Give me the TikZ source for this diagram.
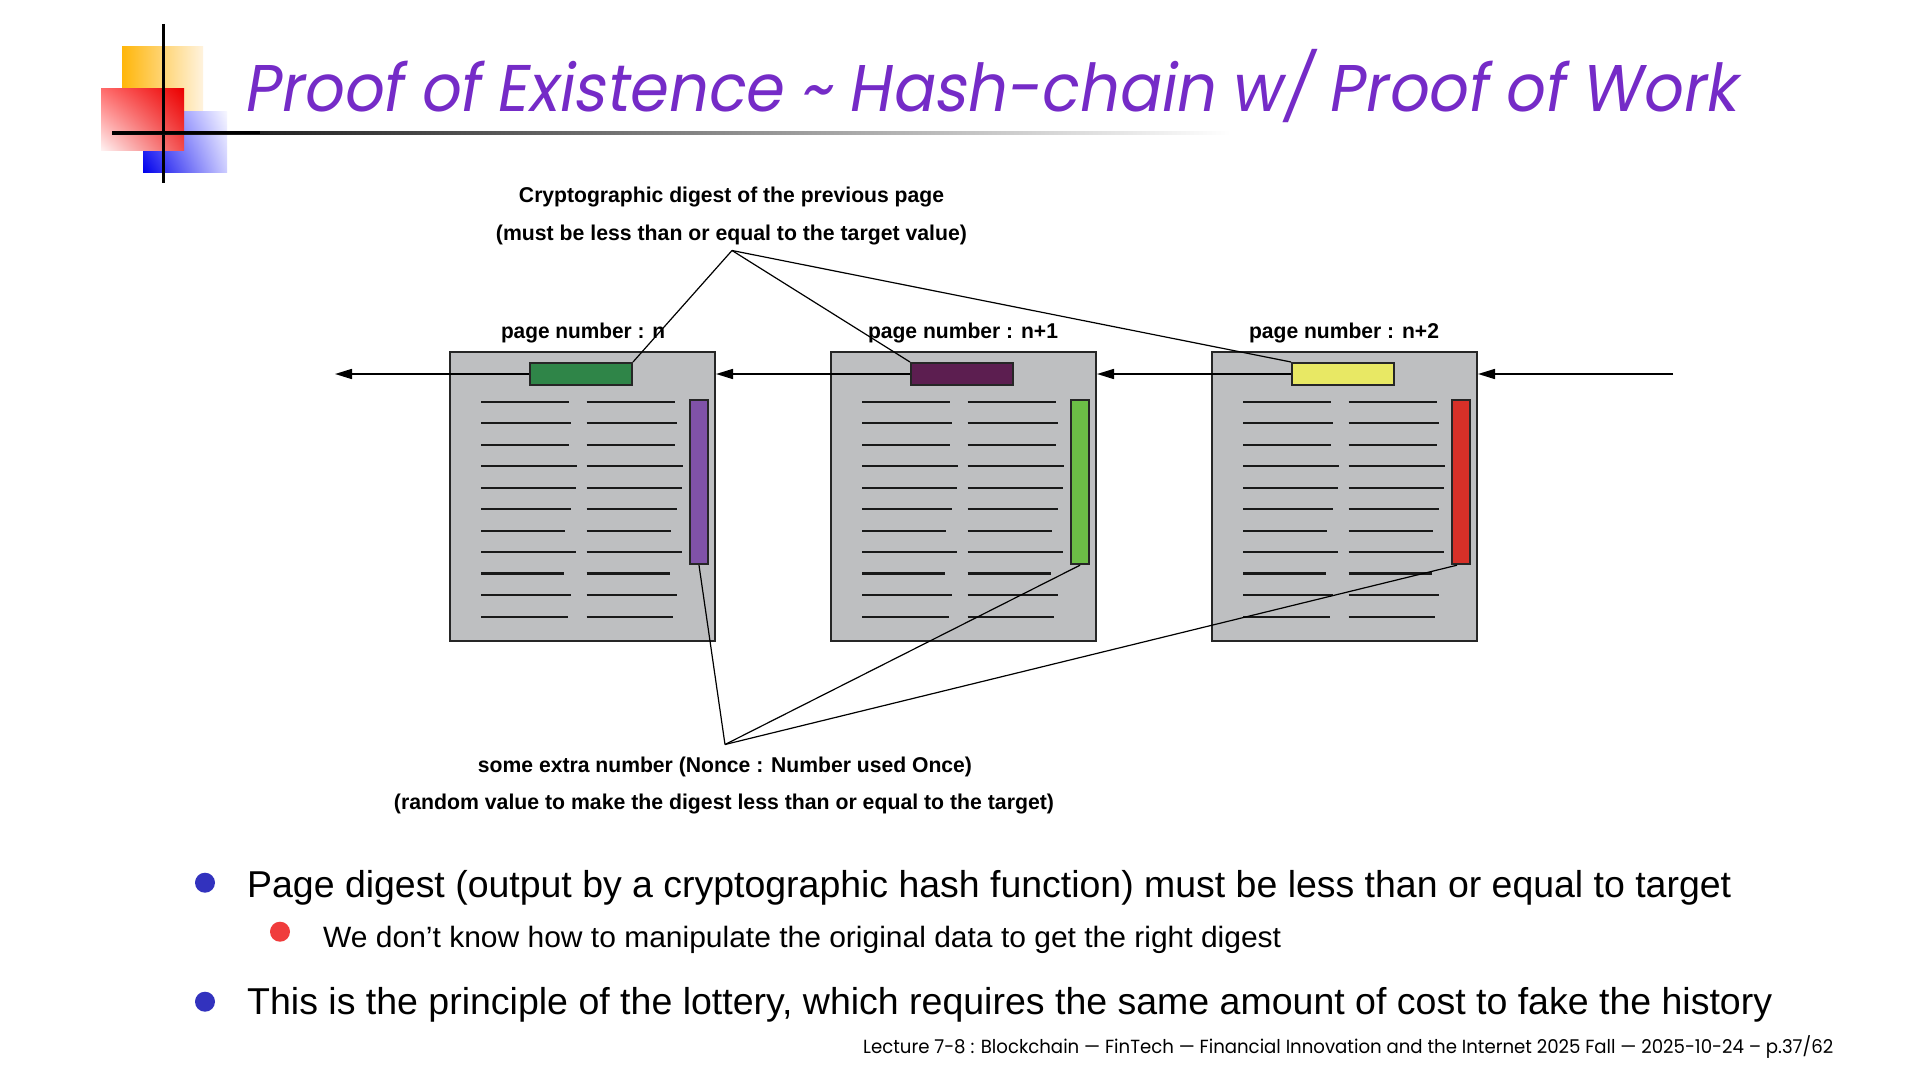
\documentclass[tikz,border=0pt]{standalone}
\usepackage{fontspec}
\usepackage{graphicx}
\setmainfont{Liberation Sans}
\newfontfamily\titlefont[FakeSlant=0.18]{Poppins}
\newfontfamily\footfont{Poppins}
\usetikzlibrary{arrows.meta,calc,shadings}
\newcommand{\fitw}[2]{\resizebox{#1}{\height}{#2}}
\definecolor{titlepurple}{RGB}{117,43,199}
\definecolor{pagegray}{RGB}{190,191,193}
\definecolor{dig1}{RGB}{47,133,72}
\definecolor{dig2}{RGB}{92,30,80}
\definecolor{dig3}{RGB}{232,232,100}
\definecolor{non1}{RGB}{128,82,168}
\definecolor{non2}{RGB}{108,190,70}
\definecolor{non3}{RGB}{214,48,40}
\definecolor{bulletblue}{RGB}{50,50,190}
\definecolor{bulletred}{RGB}{240,60,60}
\definecolor{yelA}{RGB}{255,182,10}
\definecolor{yelB}{RGB}{255,243,222}
\definecolor{bluUL}{RGB}{90,90,255}
\definecolor{bluLL}{RGB}{0,0,235}
\definecolor{bluUR}{RGB}{248,248,255}
\definecolor{bluLR}{RGB}{205,205,255}
\definecolor{redUL}{RGB}{255,110,110}
\definecolor{redUR}{RGB}{235,0,0}
\definecolor{redLL}{RGB}{255,242,242}
\definecolor{redLR}{RGB}{242,75,75}
\tikzset{
  pagebox/.style={draw=black!85, line width=2pt, fill=pagegray, minimum width=265pt, minimum height=288.5pt, inner sep=0pt},
  textline/.style={line width=2.3pt, black!90},
  digestbox/.style={draw=black!85, line width=2pt, minimum width=102pt, minimum height=22pt, inner sep=0pt},
  noncebox/.style={draw=black!85, line width=2pt, minimum width=18pt, minimum height=164pt, inner sep=0pt},
  conn/.style={line width=1.2pt, black},
  arr/.style={line width=1.6pt, black, -{Triangle[length=17pt,width=10pt]}},
  lbl/.style={inner sep=0pt, anchor=base, font=\bfseries\fontsize{21.4}{24}\selectfont},
  bulletdot/.style={circle, inner sep=0pt, minimum size=20pt}
}
\begin{document}
\begin{tikzpicture}[x=1pt,y=-1pt]
\useasboundingbox (0,0) rectangle (1920,1081);
\fill[white] (0,0) rectangle (1920,1081);
% logo
\shade[left color=yelA, right color=yelB] (122,47) rectangle (203,128);
\shade[upper left=bluUL, lower left=bluLL, upper right=bluUR, lower right=bluLR] (143,111) rectangle (227,172);
\shade[upper left=redUL, upper right=redUR, lower left=redLL, lower right=redLR] (101,89) rectangle (184,150);
\draw[line width=3pt, black] (163,24) -- (163,183);
\shade[left color=black, right color=white] (112,131) rectangle (1231,134.2);
\fill[black] (112,131) rectangle (260,134.2);
% title
\node[anchor=base west, inner sep=0pt, text=titlepurple, font=\titlefont\fontsize{66}{70}\selectfont] (title) at (243,111.7) {\fitw{1493pt}{Proof of Existence \textasciitilde{} Hash-chain w/ Proof of Work}};
% pages
\foreach \i/\px/\dc/\nc in {1/450/dig1/non1, 2/831/dig2/non2, 3/1212/dig3/non3} {
  \node[pagebox] (p\i) at (\px+132.5,496.25) {};
  \begin{scope}[shift={(\px,0)}]
    \foreach \y/\l in {401.7/119.3, 423.3/121, 445/119.3, 466.3/127, 487.7/126, 509.3/121, 530.7/115.3, 552/126, 573.5/114, 595/121, 616.7/117.7} {
      \draw[textline] (31,\y) -- (\l,\y);
      \draw[textline] (136.7,\y) -- (\l+105.7,\y);
    }
  \end{scope}
  \node[digestbox, fill=\dc] (d\i) at (\px+131,374) {};
  \node[noncebox, fill=\nc] (n\i) at (\px+249,482.2) {};
}
% page labels
\node[lbl] (pl1) at (583,338) {\fitw{164pt}{page number : n}};
\node[lbl] (pl2) at (963,338) {\fitw{190pt}{page number : n+1}};
\node[lbl] (pl3) at (1344,338) {\fitw{190pt}{page number : n+2}};
% chain arrows
\coordinate (leftend) at (335,374);
\coordinate (rightstart) at (1673,374);
\draw[arr] (d1.west) -- (leftend);
\draw[arr] (d2.west) -- (d2.west -| p1.east);
\draw[arr] (d3.west) -- (d3.west -| p2.east);
\draw[arr] (rightstart) -- (d3.west -| p3.east);
% digest label and connectors
\node[lbl] (dl1) at (731.5,202.7) {\fitw{425pt}{Cryptographic digest of the previous page}};
\node[lbl] (dl2) at (731.5,240) {\fitw{471pt}{(must be less than or equal to the target value)}};
\coordinate (dfan) at (732,250.5);
\draw[conn] (dfan) -- (d1.north east);
\draw[conn] (dfan) -- (d2.north west);
\draw[conn] (dfan) -- (d3.north west);
% nonce label and connectors
\node[lbl] (nl1) at (725,772.7) {\fitw{494pt}{some extra number (Nonce : Number used Once)}};
\node[lbl] (nl2) at (724,809.7) {\fitw{660pt}{(random value to make the digest less than or equal to the target)}};
\coordinate (nfan) at (725,744.5);
\draw[conn] (nfan) -- (n1.south);
\draw[conn] (nfan) -- (n2.south);
\draw[conn] (nfan) -- ($(n3.south west)!0.3!(n3.south east)$);
% bullets
\node[bulletdot, fill=bulletblue] (bd1) at (205,882.7) {};
\node[anchor=base west, inner sep=0pt, font=\fontsize{37.4}{40}\selectfont] (b1) at (247,897.5) {\fitw{1484pt}{Page digest (output by a cryptographic hash function) must be less than or equal to target}};
\node[bulletdot, fill=bulletred] (bd2) at (280,931.7) {};
\node[anchor=base west, inner sep=0pt, font=\fontsize{29.4}{32}\selectfont] (b2) at (323,947.5) {\fitw{958pt}{We don’t know how to manipulate the original data to get the right digest}};
\node[bulletdot, fill=bulletblue] (bd3) at (205,1001.7) {};
\node[anchor=base west, inner sep=0pt, font=\fontsize{37.4}{40}\selectfont] (b3) at (247,1014) {\fitw{1525pt}{This is the principle of the lottery, which requires the same amount of cost to fake the history}};
% footer
\node[anchor=base west, inner sep=0pt, font=\footfont\fontsize{19}{21}\selectfont] (ft) at (863,1053.5) {\fitw{970pt}{Lecture 7-8 : Blockchain — FinTech — Financial Innovation and the Internet 2025 Fall — 2025-10-24 – p.37/62}};
\end{tikzpicture}
\end{document}
